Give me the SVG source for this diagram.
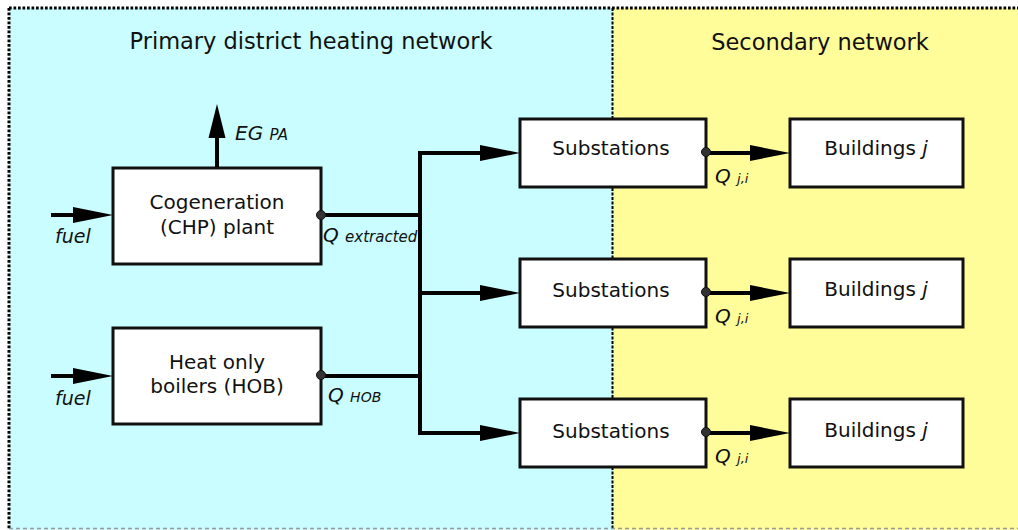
<svg xmlns="http://www.w3.org/2000/svg" width="1018" height="530" viewBox="0 0 1018 530">
<style>
.box{fill:#fff;stroke:#111;stroke-width:3}
.lbl{font-family:"DejaVu Sans","Liberation Sans",sans-serif;font-size:20px;fill:#111;text-anchor:middle}
.ttl{font-family:"DejaVu Sans","Liberation Sans",sans-serif;font-size:22.5px;fill:#111;text-anchor:middle}
.it{font-family:"DejaVu Sans","Liberation Sans",sans-serif;font-style:italic;fill:#111}
.ln{stroke:#000;stroke-width:4;fill:none}
.dot{fill:#333;stroke:#111;stroke-width:1}
</style>
<defs>
<marker id="ah" markerUnits="userSpaceOnUse" markerWidth="40" markerHeight="16" refX="0" refY="8" orient="auto" overflow="visible">
<path d="M0,0 L40,8 L0,16 z" fill="#000"/>
</marker>
<marker id="ahs" markerUnits="userSpaceOnUse" markerWidth="34" markerHeight="17" refX="0" refY="8.5" orient="auto" overflow="visible">
<path d="M0,0 L34,8.5 L0,17 z" fill="#000"/>
</marker>
</defs>
<g id="background">
<rect x="9" y="8" width="604" height="522" fill="#C9FDFF"/>
<rect x="613" y="8" width="405" height="522" fill="#FFFD99"/>
<line x1="9" y1="8" x2="1018" y2="8" stroke="#000" stroke-width="3" stroke-dasharray="2.7,1.8"/>
<line x1="9" y1="8" x2="9" y2="530" stroke="#000" stroke-width="3" stroke-dasharray="2.7,1.8"/>
<line x1="612.5" y1="8" x2="612.5" y2="530" stroke="#000" stroke-width="2" stroke-dasharray="3,1.5"/>
<line x1="9" y1="528.5" x2="1018" y2="528.5" stroke="#999" stroke-width="1.5" stroke-dasharray="4,3"/>
<text class="ttl" x="311" y="49">Primary district heating network</text>
<text class="ttl" x="820" y="50">Secondary network</text>
</g>
<g id="chp">
<rect class="box" x="113" y="168" width="208" height="96"/>
<text class="lbl" x="217" y="209">Cogeneration</text>
<text class="lbl" x="217" y="234">(CHP) plant</text>
</g>
<g id="hob">
<rect class="box" x="113" y="328" width="208" height="96"/>
<text class="lbl" x="217" y="369">Heat only</text>
<text class="lbl" x="217" y="393">boilers (HOB)</text>
</g>
<g id="sub1">
<rect class="box" x="520" y="119" width="186" height="68"/>
<text class="lbl" x="611" y="155">Substations</text>
</g>
<g id="sub2">
<rect class="box" x="520" y="259" width="186" height="68"/>
<text class="lbl" x="611" y="297">Substations</text>
</g>
<g id="sub3">
<rect class="box" x="520" y="399" width="186" height="68"/>
<text class="lbl" x="611" y="438">Substations</text>
</g>
<g id="bld1">
<rect class="box" x="790" y="119" width="173" height="68"/>
<text class="lbl" x="876" y="155">Buildings <tspan font-style="italic">j</tspan></text>
</g>
<g id="bld2">
<rect class="box" x="790" y="259" width="173" height="68"/>
<text class="lbl" x="876" y="296">Buildings <tspan font-style="italic">j</tspan></text>
</g>
<g id="bld3">
<rect class="box" x="790" y="399" width="173" height="68"/>
<text class="lbl" x="876" y="437">Buildings <tspan font-style="italic">j</tspan></text>
</g>
<g id="connectors">
<line class="ln" x1="51" y1="215" x2="73" y2="215" marker-end="url(#ah)"/>
<line class="ln" x1="51" y1="376" x2="73" y2="376" marker-end="url(#ah)"/>
<line class="ln" x1="217" y1="167" x2="217" y2="138" marker-end="url(#ahs)"/>
<polyline class="ln" points="321,215 420,215"/>
<polyline class="ln" points="321,376 420,376"/>
<line class="ln" x1="420" y1="151" x2="420" y2="435"/>
<line class="ln" x1="418" y1="153" x2="480" y2="153" marker-end="url(#ah)"/>
<line class="ln" x1="420" y1="293" x2="480" y2="293" marker-end="url(#ah)"/>
<line class="ln" x1="418" y1="433" x2="480" y2="433" marker-end="url(#ah)"/>
<line class="ln" x1="706" y1="153" x2="750" y2="153" marker-end="url(#ah)"/>
<line class="ln" x1="706" y1="293" x2="750" y2="293" marker-end="url(#ah)"/>
<line class="ln" x1="706" y1="433" x2="750" y2="433" marker-end="url(#ah)"/>
<circle class="dot" cx="321" cy="215" r="4.5"/>
<circle class="dot" cx="321" cy="375" r="4.5"/>
<circle class="dot" cx="706" cy="152" r="4.5"/>
<circle class="dot" cx="706" cy="292" r="4.5"/>
<circle class="dot" cx="706" cy="432" r="4.5"/>
<text class="it" x="55" y="243" font-size="19">fuel</text>
<text class="it" x="55" y="405" font-size="19">fuel</text>
<text class="it" x="235" y="140" font-size="20">EG <tspan font-size="15">PA</tspan></text>
<text class="it" x="323" y="242" font-size="20">Q <tspan font-size="15">extracted</tspan></text>
<text class="it" x="328" y="402" font-size="20">Q <tspan font-size="14">HOB</tspan></text>
<text class="it" x="715" y="183" font-size="20">Q <tspan font-size="13">j,i</tspan></text>
<text class="it" x="715" y="323" font-size="20">Q <tspan font-size="13">j,i</tspan></text>
<text class="it" x="715" y="463" font-size="20">Q <tspan font-size="13">j,i</tspan></text>
</g>
</svg>
